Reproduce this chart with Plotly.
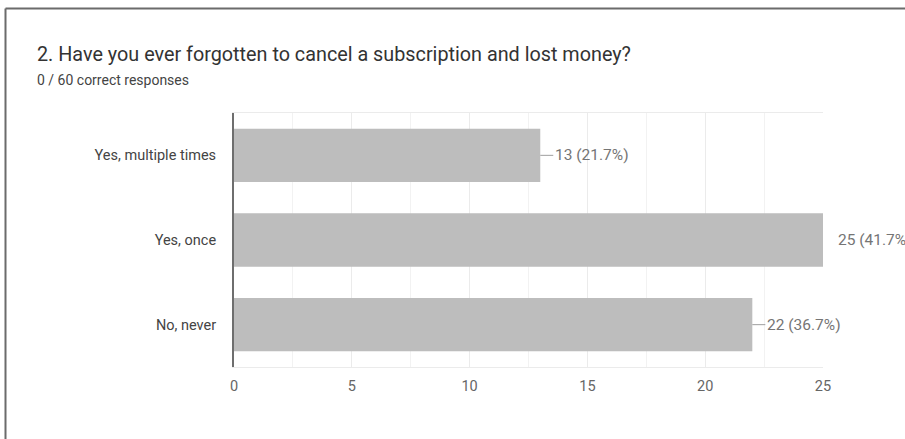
import plotly.graph_objects as go

categories = ["Yes, multiple times", "Yes, once", "No, never"]
counts = [13, 25, 22]
total = 60
percents = [round(c / total * 100, 1) for c in counts]
x_ticks = [0, 5, 10, 15, 20, 25]

title_text = "2. Have you ever forgotten to cancel a subscription and lost money?"
subtitle_text = "0 / 60 correct responses"

W, H = 905, 439
L, R, T, B = 234, 82, 113, 72
pw, ph = W - L - R, H - T - B

def px_x(px):
    return (px - L) / pw

def px_y(py):
    return (H - B - py) / ph

FONT = "Roboto, Arial, sans-serif"

fig = go.Figure()
fig.add_trace(go.Bar(
    y=categories, x=counts, orientation="h",
    marker=dict(color="#bdbdbd", line=dict(width=0)),
    width=0.63, hoverinfo="skip",
))

annotations = []
max_c = max(counts)
for cat, c, p in zip(categories, counts, percents):
    annotations.append(dict(
        x=c, y=cat, xref="x", yref="y",
        text=f"{c} ({p}%)", showarrow=True, arrowhead=0,
        arrowwidth=1,
        arrowcolor="rgba(0,0,0,0)" if c == max_c else "#9e9e9e",
        ax=13, ay=0, xanchor="left", yanchor="middle",
        font=dict(family=FONT, size=15.5, color="#757575"),
        standoff=0, startstandoff=0,
    ))

annotations.append(dict(
    x=px_x(35), y=px_y(55), xref="paper", yref="paper",
    text=title_text, showarrow=False, xanchor="left", yanchor="middle",
    font=dict(family=FONT, size=19.8, color="#333333"),
))
annotations.append(dict(
    x=px_x(35), y=px_y(80), xref="paper", yref="paper",
    text=subtitle_text, showarrow=False, xanchor="left", yanchor="middle",
    font=dict(family=FONT, size=14, color="#444444"),
))

shapes = [
    dict(type="line", xref="paper", yref="paper",
         x0=px_x(5.5), x1=px_x(905), y0=px_y(8.5), y1=px_y(8.5),
         line=dict(color="#6b6b6b", width=2), layer="above"),
    dict(type="line", xref="paper", yref="paper",
         x0=px_x(5.5), x1=px_x(5.5), y0=px_y(8.5), y1=px_y(439),
         line=dict(color="#6b6b6b", width=2), layer="above"),
]

fig.update_layout(
    width=W, height=H,
    margin=dict(l=L, r=R, t=T, b=B),
    paper_bgcolor="white", plot_bgcolor="white",
    showlegend=False,
    annotations=annotations,
    shapes=shapes,
    font=dict(family=FONT, color="#666666"),
)
fig.update_xaxes(
    range=[0, 25], tickvals=x_ticks,
    showgrid=True, gridcolor="#ebebeb", gridwidth=1,
    minor=dict(dtick=2.5, showgrid=True, gridcolor="#f2f2f2", gridwidth=1),
    showline=True, linecolor="#ebebeb", linewidth=1, mirror=True,
    zeroline=False, ticks="",
    tickfont=dict(family=FONT, size=14.5, color="#666666"),
    ticklabelstandoff=6, fixedrange=True,
)
fig.update_yaxes(
    autorange="reversed", categoryorder="array", categoryarray=categories,
    showline=True, linecolor="#6e6e6e", linewidth=2,
    showgrid=False, ticks="",
    tickfont=dict(family=FONT, size=14.5, color="#444444"),
    ticklabelstandoff=13, fixedrange=True,
)

fig.write_html(
    "out.html",
    config={"displayModeBar": False},
    post_script=(
        "document.body.style.margin='0';"
        "document.body.style.overflow='hidden';"
        "document.documentElement.style.overflow='hidden';"
    ),
)
